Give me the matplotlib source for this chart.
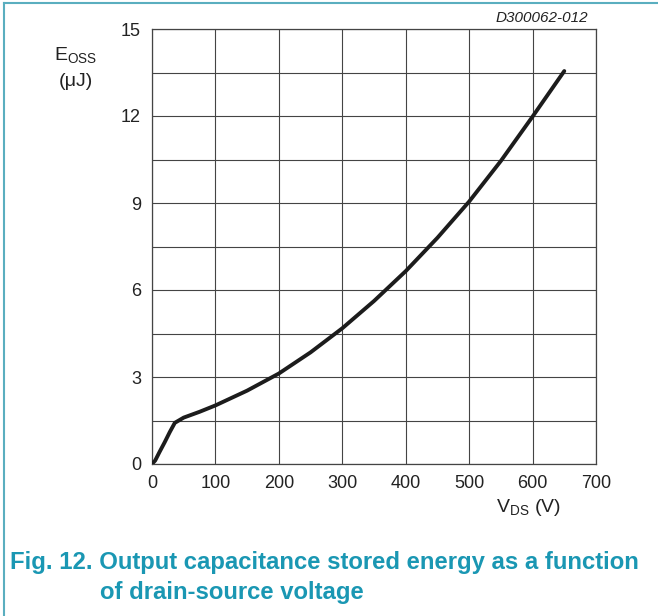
import matplotlib.pyplot as plt
import numpy as np

plt.rcParams['font.family'] = ['Liberation Sans', 'DejaVu Sans']

# curve
vds = [0, 5, 12, 20, 28, 36, 50, 75, 100, 150, 200, 250, 300, 350, 400, 450, 500, 550, 600, 650]
eoss = [0, 0.12, 0.42, 0.75, 1.1, 1.42, 1.6, 1.8, 2.02, 2.53, 3.12, 3.85, 4.68, 5.62, 6.65, 7.8, 9.05, 10.45, 11.98, 13.55]

xticks = [0, 100, 200, 300, 400, 500, 600, 700]
yticks = [0, 3, 6, 9, 12, 15]

fig = plt.figure(figsize=(6.58, 6.16), dpi=100)
ax = fig.add_axes([152/658, 1-464/616, 444/658, 435/616])

ax.plot(vds, eoss, color='#1c1c1c', lw=2.8, solid_capstyle='round', solid_joinstyle='round', zorder=3)

ax.set_xlim(0, 700)
ax.set_ylim(0, 15)
ax.set_xticks(xticks)
ax.set_xticklabels([str(t) for t in xticks])
ax.set_yticks(yticks)
ax.set_yticks(np.arange(0, 15.1, 1.5), minor=True)
ax.tick_params(length=0, labelsize=13, colors='#222222', pad=8)
ax.tick_params(which='minor', length=0)
ax.grid(True, which='both', color='#444444', lw=0.8)
for s in ax.spines.values():
    s.set_color('#444444')
    s.set_linewidth(0.9)

fig.text(76/658, 1-56/616, r'E$_{\mathregular{OSS}}$', ha='center', va='center', fontsize=14, color='#222222')
fig.text(76/658, 1-82/616, '(μJ)', ha='center', va='center', fontsize=14, color='#222222')
fig.text(528/658, 1-507/616, r'V$_{\mathregular{DS}}$ (V)', ha='center', va='center', fontsize=14, color='#222222')
fig.text(588/658, 1-18/616, 'D300062-012', ha='right', va='center', fontsize=11, style='italic', color='#222222')

fig.text(10/658, 1-563/616, 'Fig. 12. Output capacitance stored energy as a function',
         ha='left', va='center', fontsize=17.2, fontweight='bold', color='#1a97b3')
fig.text(100/658, 1-593/616, 'of drain-source voltage',
         ha='left', va='center', fontsize=17.2, fontweight='bold', color='#1a97b3')

# teal frame on top and left edge
fig.add_artist(plt.Line2D([4/658, 1], [1-3/616, 1-3/616], transform=fig.transFigure, color='#5aaebf', lw=1.5))
fig.add_artist(plt.Line2D([4/658, 4/658], [0, 1-3/616], transform=fig.transFigure, color='#5aaebf', lw=1.5))

fig.savefig('out.png', dpi=100)
